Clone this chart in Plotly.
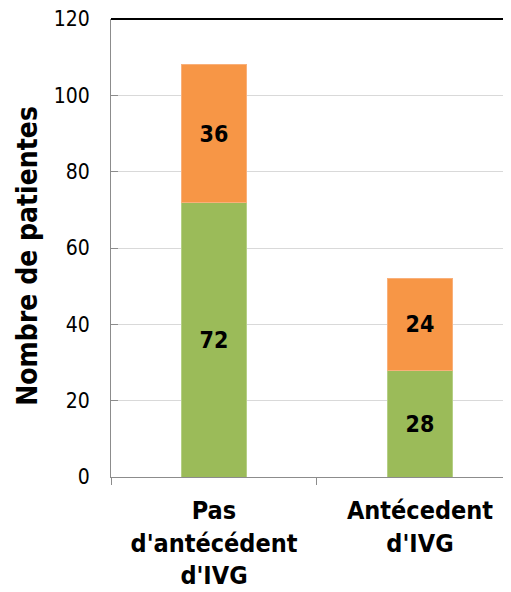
import plotly.graph_objects as go

# Data
categories = ["Pas<br>d'antécédent<br>d'IVG", "Antécedent<br>d'IVG"]
green_values = [72, 28]
orange_values = [36, 24]
y_ticks = [0, 20, 40, 60, 80, 100, 120]

font_family = "DejaVu Sans Condensed, DejaVu Sans, Verdana, sans-serif"

fig = go.Figure()

fig.add_trace(go.Bar(
    x=categories, y=green_values,
    marker=dict(color="#9BBB59", line=dict(color="#B5CF85", width=1)),
    text=[str(v) for v in green_values],
    textposition="inside", insidetextanchor="middle", textangle=0,
    textfont=dict(size=23, color="black", family=font_family, weight="bold"),
    width=0.32, showlegend=False, hoverinfo="skip",
))
fig.add_trace(go.Bar(
    x=categories, y=orange_values,
    marker=dict(color="#F79646", line=dict(color="#F9B07A", width=1)),
    text=[str(v) for v in orange_values],
    textposition="inside", insidetextanchor="middle", textangle=0,
    textfont=dict(size=23, color="black", family=font_family, weight="bold"),
    width=0.32, showlegend=False, hoverinfo="skip",
))

# Black top border of plot area
fig.add_shape(type="line", xref="paper", yref="paper", x0=0, x1=1, y0=1, y1=1,
              line=dict(color="black", width=2))

# Y-axis title
fig.add_annotation(
    text="Nombre de patientes", textangle=-90,
    xref="paper", yref="paper", x=-0.208, y=0.483,
    xanchor="center", yanchor="middle", showarrow=False,
    font=dict(size=28, color="black", family=font_family, weight="bold"),
)

fig.update_layout(
    barmode="stack",
    width=503, height=584,
    margin=dict(l=103, r=1, t=11, b=115, autoexpand=False),
    paper_bgcolor="white", plot_bgcolor="white",
    font=dict(family=font_family, color="black"),
    xaxis=dict(
        range=[-0.5, 1.437], automargin=False,
        showline=True, linecolor="#8c8c8c", linewidth=1,
        ticks="outside", tickson="boundaries", ticklen=7, tickcolor="#8c8c8c",
        tickfont=dict(size=25, color="black", family=font_family, weight="bold"),
        ticklabelstandoff=11,
        showgrid=False, zeroline=False,
    ),
    yaxis=dict(
        range=[0, 120], tickvals=y_ticks, automargin=False,
        showline=True, linecolor="#8c8c8c", linewidth=1,
        ticks="inside", ticklen=7, tickcolor="#8c8c8c",
        tickfont=dict(size=21, color="black", family=font_family),
        ticklabelstandoff=16, ticklabeloverflow="allow",
        showgrid=True, gridcolor="#d9d9d9", gridwidth=1,
        zeroline=False,
    ),
)

fig.write_html("out.html")
